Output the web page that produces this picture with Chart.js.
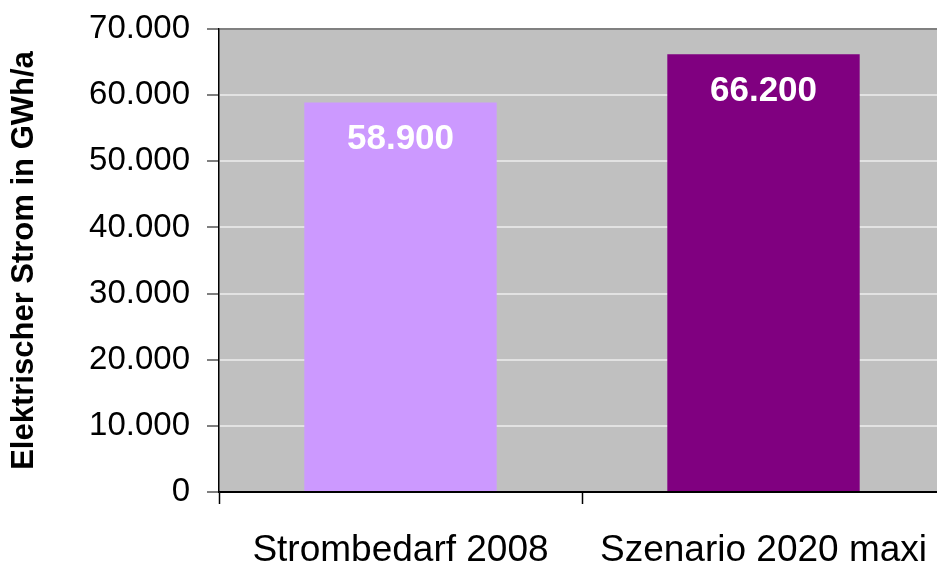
<!DOCTYPE html>
<html>
<head>
<meta charset="utf-8">
<script src="https://cdn.jsdelivr.net/npm/chart.js@4.4.1/dist/chart.umd.min.js"></script>
<style>
  html, body { margin: 0; padding: 0; background: #fff; overflow: hidden; }
  #wrap { width: 950px; height: 565px; position: relative; }
</style>
</head>
<body>
<div id="wrap"><canvas id="chart"></canvas></div>
<script>
// data
const categories = ["Strombedarf 2008", "Szenario 2020 maxi"];
const stromGWh = [58900, 66200];
const barColors = ["#CC99FF", "#800080"];
const yTicks = [0, 10000, 20000, 30000, 40000, 50000, 60000, 70000];

const font = "'Liberation Sans', Arial, sans-serif";
const fmt = v => v === 0 ? "0" : v.toLocaleString("de-DE");

// grey plot background like the old excel charts
const plotBg = {
    id: "plotBg",
    beforeDraw(chart) {
        const {ctx, chartArea: a} = chart;
        ctx.save();
        ctx.fillStyle = "#C0C0C0";
        ctx.fillRect(a.left, a.top, a.right - a.left, a.bottom - a.top);
        ctx.restore();
    }
};

// white values inside the bars
const barValues = {
    id: "barValues",
    afterDatasetsDraw(chart) {
        const ctx = chart.ctx;
        const meta = chart.getDatasetMeta(0);
        ctx.save();
        ctx.fillStyle = "#fff";
        ctx.font = "bold 35px " + font;
        ctx.textAlign = "center";
        ctx.textBaseline = "middle";
        meta.data.forEach((bar, i) => {
            ctx.fillText(fmt(stromGWh[i]), bar.x, bar.y + 37);
        });
        ctx.restore();
    }
};

const canvas = document.querySelector("#chart");
new Chart(canvas, {
    type: "bar",
    data: {
        labels: categories,
        datasets: [{
            data: stromGWh,
            backgroundColor: barColors,
            borderWidth: 0,
            barPercentage: 0.53,
            categoryPercentage: 1
        }]
    },
    options: {
        responsive: true,
        maintainAspectRatio: false,
        animation: false,
        events: [],
        layout: { padding: { left: 0, top: 29, right: 5, bottom: 0 } },
        plugins: { legend: { display: false }, tooltip: { enabled: false } },
        scales: {
            x: {
                afterFit: s => { s.height = 73; s.paddingLeft = 0; s.paddingRight = 0; },
                border: { display: true, color: "#000", width: 1.5 },
                grid: { offset: true, drawOnChartArea: false, tickLength: 12, tickColor: "#000", tickWidth: 1.5 },
                ticks: { color: "#000", font: { family: font, size: 37 }, padding: 25 }
            },
            y: {
                min: 0,
                max: 70000,
                afterFit: s => { s.width = 219; s.paddingTop = 0; s.paddingBottom = 0; },
                afterBuildTicks: s => { s.ticks = yTicks.map(v => ({ value: v })); },
                border: { display: true, color: "#000", width: 1.5 },
                grid: {
                    color: c => c.tick.value === 70000 ? "#808080" : (c.tick.value === 0 ? "#000" : "#E2E2E2"),
                    lineWidth: 2,
                    tickLength: 12,
                    tickColor: "#555",
                    tickWidth: 1.5
                },
                ticks: { color: "#000", font: { family: font, size: 33 }, padding: 17, callback: v => fmt(v) },
                title: {
                    display: true,
                    text: "Elektrischer Strom in GWh/a",
                    color: "#000",
                    font: { family: font, size: 31, weight: "bold" },
                    padding: { top: 6, bottom: 0 }
                }
            }
        }
    },
    plugins: [plotBg, barValues]
});
</script>
</body>
</html>
